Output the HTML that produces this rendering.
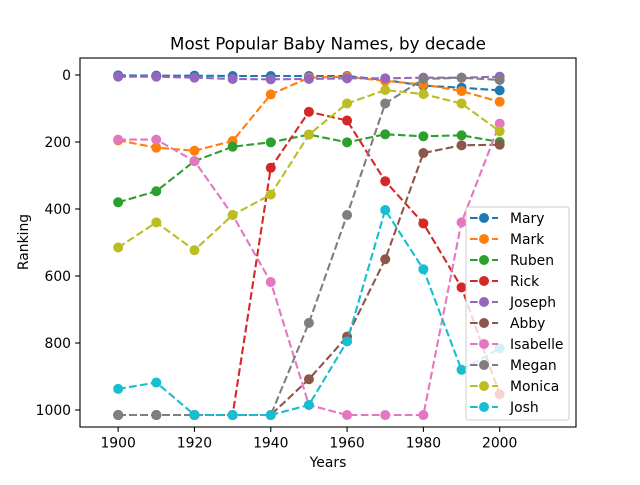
<!DOCTYPE html>
<html><head><meta charset="utf-8"><style>
body{margin:0;background:#fff;}
svg text{font-family:"DejaVu Sans","Liberation Sans",sans-serif;}
</style></head><body>
<svg id="chart" width="640" height="480"></svg>
<script>
const years=[1900,1910,1920,1930,1940,1950,1960,1970,1980,1990,2000];
const names=["Mary","Mark","Ruben","Rick","Joseph","Abby","Isabelle","Megan","Monica","Josh"];
const colors=["#1f77b4","#ff7f0e","#2ca02c","#d62728","#9467bd","#8c564b","#e377c2","#7f7f7f","#bcbd22","#17becf"];
const mary=[1,2,2,3,3,3,3,15,32,38,46];
const mark=[195,217,226,197,58,8,5,18,28,48,80];
const ruben=[380,347,257,214,201,178,201,177,183,180,200];
const rick=[1015,1015,1015,1015,277,110,136,317,443,634,953];
const joseph=[5,5,8,12,13,12,10,10,8,8,5];
const abby=[1015,1015,1015,1015,1015,908,781,550,233,210,208];
const isabelle=[193,193,257,418,618,985,1015,1015,1015,440,145];
const megan=[1015,1015,1015,1015,1015,740,418,85,12,8,15];
const monica=[515,440,523,418,357,178,85,45,57,85,168];
const josh=[937,918,1015,1015,1015,985,795,403,580,880,816];
const series=[mary,mark,ruben,rick,joseph,abby,isabelle,megan,monica,josh];
const xTicks=[1900,1920,1940,1960,1980,2000];
const yTicks=[0,200,400,600,800,1000];

const L=80,R=576,T=58,B=427;
const xMin=1890,xMax=2020,yMin=-50.7,yMax=1050.7;
const X=v=>L+(v-xMin)/(xMax-xMin)*(R-L);
const Y=v=>T+(v-yMin)/(yMax-yMin)*(B-T);
const svg=document.getElementById('chart');
const NS="http://www.w3.org/2000/svg";
function mk(tag,attrs,parent){const e=document.createElementNS(NS,tag);for(const k in attrs)e.setAttribute(k,attrs[k]);(parent||svg).appendChild(e);return e;}

let t=mk('text',{x:328,y:49.5,'text-anchor':'middle','font-size':16.7});
t.textContent="Most Popular Baby Names, by decade";



const plot=mk('g',{});


series.forEach((s,i)=>{
  const g=mk('g',{},plot);
  
  
  const pts=s.map((v,j)=>X(years[j]).toFixed(1)+','+Y(v).toFixed(1)).join(' ');
  mk('polyline',{points:pts,fill:'none',stroke:colors[i],'stroke-width':2.1,'stroke-dasharray':'7.7,3.3'},g);
  s.forEach((v,j)=>{
    const c=mk('circle',{cx:X(years[j]),cy:Y(v),r:5,fill:colors[i]},g);
    
    
  });
});

const frame=mk('rect',{x:L,y:T,width:R-L,height:B-T,fill:'none',stroke:'#000','stroke-width':1.1});



xTicks.forEach(v=>{
  mk('line',{x1:X(v),x2:X(v),y1:B,y2:B+4.9,stroke:'#000','stroke-width':1.1});
  const tx=mk('text',{x:X(v),y:B+20.5,'text-anchor':'middle','font-size':13.9});
  tx.textContent=v;
  
  
});
yTicks.forEach(v=>{
  mk('line',{x1:L-4.9,x2:L,y1:Y(v),y2:Y(v),stroke:'#000','stroke-width':1.1});
  const ty=mk('text',{x:L-9,y:Y(v)+5,'text-anchor':'end','font-size':13.9});
  ty.textContent=v;
  
  
});
let xl=mk('text',{x:328,y:467,'text-anchor':'middle','font-size':13.9});
xl.textContent="Years";


let yl=mk('text',{x:0,y:0,'text-anchor':'middle','font-size':13.9,transform:'translate(28,242) rotate(-90)'});
yl.textContent="Ranking";



const lg=mk('g',{});


mk('rect',{x:466,y:207,width:103,height:213,rx:2,fill:'#fff','fill-opacity':0.8,stroke:'#ccc'},lg);
names.forEach((n,i)=>{
  const y=218+i*21;
  const e=mk('g',{},lg);
  
  
  mk('line',{x1:470,x2:498,y1:y,y2:y,stroke:colors[i],'stroke-width':2.1,'stroke-dasharray':'7.7,3.3'},e);
  mk('circle',{cx:484,cy:y,r:5,fill:colors[i]},e);
  const tt=mk('text',{x:510,y:y+5,'font-size':13.9},e);
  tt.textContent=n;
});
</script>
</body></html>
